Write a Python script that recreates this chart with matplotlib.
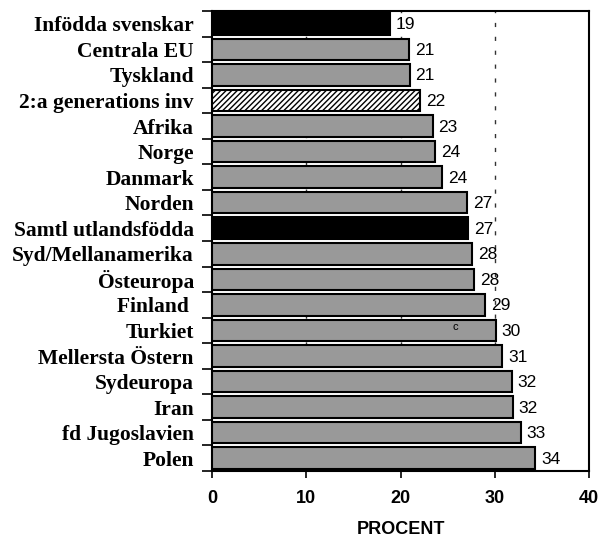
import matplotlib
matplotlib.use("Agg")
import matplotlib.pyplot as plt
from matplotlib.ticker import FixedLocator

# Share (percent) per country of birth / origin group
categories = [
    "Infödda svenskar", "Centrala EU", "Tyskland", "2:a generations inv",
    "Afrika", "Norge", "Danmark", "Norden", "Samtl utlandsfödda",
    "Syd/Mellanamerika", "Östeuropa", "Finland ", "Turkiet",
    "Mellersta Östern", "Sydeuropa", "Iran", "fd Jugoslavien", "Polen",
]
values = [18.9, 20.9, 21.0, 22.1, 23.4, 23.7, 24.4, 27.1, 27.2,
          27.6, 27.8, 29.0, 30.1, 30.8, 31.8, 31.9, 32.8, 34.3]
styles = ["black", "gray", "gray", "hatch", "gray", "gray", "gray", "gray",
          "black", "gray", "gray", "gray", "gray", "gray", "gray", "gray",
          "gray", "gray"]
xticks = [0, 10, 20, 30, 40]
xlabel = "PROCENT"

fig = plt.figure(figsize=(6.0, 5.37), dpi=100)
ax = fig.add_axes([0.3533, 0.1229, 0.6284, 0.8566])

ypos = list(range(len(categories)))
for y, v, s in zip(ypos, values, styles):
    if s == "black":
        face, hatch = "black", None
    elif s == "hatch":
        face, hatch = "white", "//////"
    else:
        face, hatch = "#999999", None
    ax.barh(y, v, height=0.84, color=face, edgecolor="black",
            linewidth=1.5, hatch=hatch, zorder=3)
    ax.text(v + 0.6, y + 0.04, f"{v:.0f}", va="center", ha="left",
            fontsize=12.5, family="Liberation Sans", zorder=4)

# small annotation inside the Turkiet bar
ax.text(25.8, ypos[categories.index("Turkiet")] - 0.15, "c",
        fontsize=8, family="Liberation Sans", ha="center", va="center", zorder=4)

ax.set_xlim(0, 40)
ax.set_ylim(len(categories) - 0.5, -0.5)

ax.set_xticks(xticks)
ax.set_xticklabels([str(t) for t in xticks], fontsize=13,
                   fontweight="bold", family="Liberation Sans")
ax.tick_params(axis="x", direction="out", length=5, width=1.2, pad=9)

ax.set_yticks(ypos)
ax.set_yticklabels(categories, fontsize=15.5, fontweight="bold",
                   family="Liberation Serif")
ax.tick_params(axis="y", which="major", length=0, pad=13)
ax.yaxis.set_minor_locator(FixedLocator([i + 0.5 for i in range(-1, len(categories))]))
ax.tick_params(axis="y", which="minor", direction="out", length=7, width=1.2)

ax.set_xlabel(xlabel, fontsize=13, fontweight="bold",
              family="Liberation Sans", labelpad=10)

for x in xticks[1:-1]:
    ax.axvline(x, color="#333333", linestyle=(0, (3, 7)), linewidth=1.0, zorder=1)

for sp in ax.spines.values():
    sp.set_linewidth(1.5)

fig.savefig("out.png", dpi=100)
